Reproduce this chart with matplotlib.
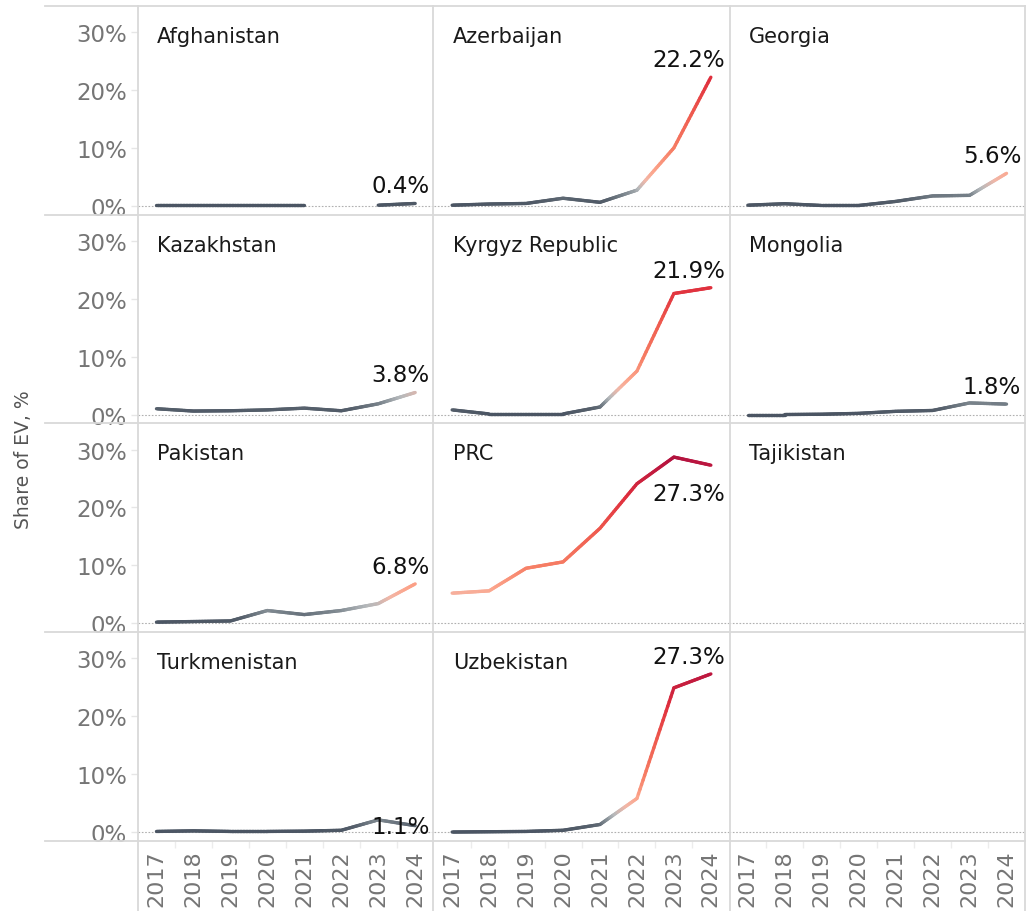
import matplotlib
matplotlib.use('Agg')
import matplotlib.pyplot as plt
from matplotlib.collections import LineCollection
from matplotlib.colors import LinearSegmentedColormap, Normalize
from matplotlib.lines import Line2D
import numpy as np

# ============ DATA ============
years = ['2017', '2018', '2019', '2020', '2021', '2022', '2023', '2024']
nan = np.nan

afghanistan  = [0.1, 0.1, 0.1, 0.1, 0.1, nan, 0.1, 0.4]
azerbaijan   = [0.1, 0.3, 0.4, 1.3, 0.6, 2.7, 10.0, 22.2]
georgia      = [0.1, 0.35, 0.05, 0.05, 0.75, 1.7, 1.8, 5.6]
kazakhstan   = [1.0, 0.6, 0.65, 0.8, 1.1, 0.65, 1.85, 3.8]
kyrgyz       = [0.8, 0.1, 0.1, 0.1, 1.3, 7.5, 20.9, 21.9]
mongolia     = [0.0, 0.0, 0.05, 0.2, 0.55, 0.7, 2.0, 1.8]
pakistan     = [0.2, 0.3, 0.4, 2.2, 1.5, 2.2, 3.4, 6.8]
prc          = [5.2, 5.6, 9.5, 10.6, 16.4, 24.1, 28.7, 27.3]
tajikistan   = [nan] * 8
turkmenistan = [0.1, 0.2, 0.1, 0.1, 0.15, 0.3, 2.1, 1.1]
uzbekistan   = [0.0, 0.05, 0.1, 0.3, 1.3, 5.8, 24.9, 27.3]

countries = ['Afghanistan', 'Azerbaijan', 'Georgia', 'Kazakhstan', 'Kyrgyz Republic',
             'Mongolia', 'Pakistan', 'PRC', 'Tajikistan', 'Turkmenistan', 'Uzbekistan']
series = [afghanistan, azerbaijan, georgia, kazakhstan, kyrgyz, mongolia,
          pakistan, prc, tajikistan, turkmenistan, uzbekistan]

# label placement of the last value (offset in points below/above the end point)
label_dy = {'PRC': -25, 'Turkmenistan': -5}

# ============ STYLE ============
VMAX = 30.0
nodes = [(0.0, '#4b5563'), (1.0, '#56606c'), (2.0, '#7c868e'), (3.0, '#b4b8bb'),
         (4.5, '#f2b7a8'), (6.0, '#fca68d'), (10.0, '#f67d64'), (16.0, '#ef5b4f'),
         (22.0, '#df2f3d'), (28.0, '#b8143f'), (30.0, '#a50f3c')]
cmap = LinearSegmentedColormap.from_list('ev', [(v / VMAX, c) for v, c in nodes])
norm = Normalize(0, VMAX)

GRID = '#d9d9d9'
TICK = '#757575'


def gradient_line(ax, y):
    x = np.arange(len(y), dtype=float)
    y = np.asarray(y, dtype=float)
    segs, vals = [], []
    for i in range(len(y) - 1):
        if np.isnan(y[i]) or np.isnan(y[i + 1]):
            continue
        t = np.linspace(0, 1, 25)
        xs = x[i] + (x[i + 1] - x[i]) * t
        ys = y[i] + (y[i + 1] - y[i]) * t
        for k in range(len(t) - 1):
            segs.append([(xs[k], ys[k]), (xs[k + 1], ys[k + 1])])
            vals.append((ys[k] + ys[k + 1]) / 2)
    if segs:
        lc = LineCollection(segs, colors=cmap(norm(np.array(vals))), linewidths=2.4,
                            capstyle='round', joinstyle='round', zorder=3)
        ax.add_collection(lc)


W, H = 1028, 912
fig, axes = plt.subplots(4, 3, figsize=(W / 100, H / 100), dpi=100, sharex=True, sharey=True)
fig.subplots_adjust(left=138 / W, right=1025 / W, top=1 - 7 / H, bottom=1 - 842 / H,
                    wspace=0, hspace=0)

for idx, ax in enumerate(axes.flat):
    for s in ax.spines.values():
        s.set_visible(False)
    ax.set_xlim(-0.5, 7.5)
    ax.set_ylim(-1.55, 34.5)
    ax.set_yticks([0, 10, 20, 30])
    ax.set_yticklabels(['0%', '10%', '20%', '30%'])
    ax.set_xticks(range(len(years)))
    ax.set_xticks(np.arange(0.5, 7, 1), minor=True)
    ax.tick_params(axis='y', length=5, width=1, color='#e6e6e6', pad=3,
                   labelsize=16.5, labelcolor=TICK)
    ax.tick_params(axis='x', which='major', length=0, pad=6, labelsize=16,
                   labelcolor=TICK, labelrotation=90)
    ax.tick_params(axis='x', which='minor', length=5, width=1, color='#ececec')
    ax.axhline(0, color='#b0b0b0', linestyle=(0, (1.5, 1.5)), linewidth=0.8, zorder=1)
    if idx % 3 != 0:
        ax.tick_params(axis='y', labelleft=False, length=0)
    if idx < 9:
        ax.tick_params(axis='x', which='both', labelbottom=False, length=0)
    else:
        ax.set_xticklabels(years)

    if idx >= len(countries):
        continue
    name, vals = countries[idx], series[idx]
    ax.text(0.065, 1, name, transform=ax.transAxes, ha='left', va='top',
            fontsize=15, color='#1a1a1a')
    gradient_line(ax, vals)
    last = vals[-1]
    if not np.isnan(last):
        ax.annotate(f'{last:.1f}%', xy=(7, last), xytext=(10.5, label_dy.get(name, 8)),
                    textcoords='offset points', ha='right', va='baseline',
                    fontsize=16.5, color='#111111', zorder=4)

# country name offset from panel top
for ax in axes.flat:
    for t in ax.texts:
        if t.get_va() == 'top':
            t.set_position((0.065, 1 - 20 / 209))

# separator lines of the panel grid
for yp in [7, 216, 424, 633, 842]:
    fig.add_artist(Line2D([45 / W, 1025 / W], [1 - yp / H, 1 - yp / H],
                          color=GRID, linewidth=1.3, transform=fig.transFigure))
for xp in [138, 433, 730, 1025]:
    fig.add_artist(Line2D([xp / W, xp / W], [1 - 7 / H, 0],
                          color=GRID, linewidth=1.3, transform=fig.transFigure))

fig.text(24 / W, 1 - 460 / H, 'Share of EV, %', rotation=90, ha='center', va='center',
         fontsize=13.5, color='#555555')

fig.savefig('out.png', dpi=100)
